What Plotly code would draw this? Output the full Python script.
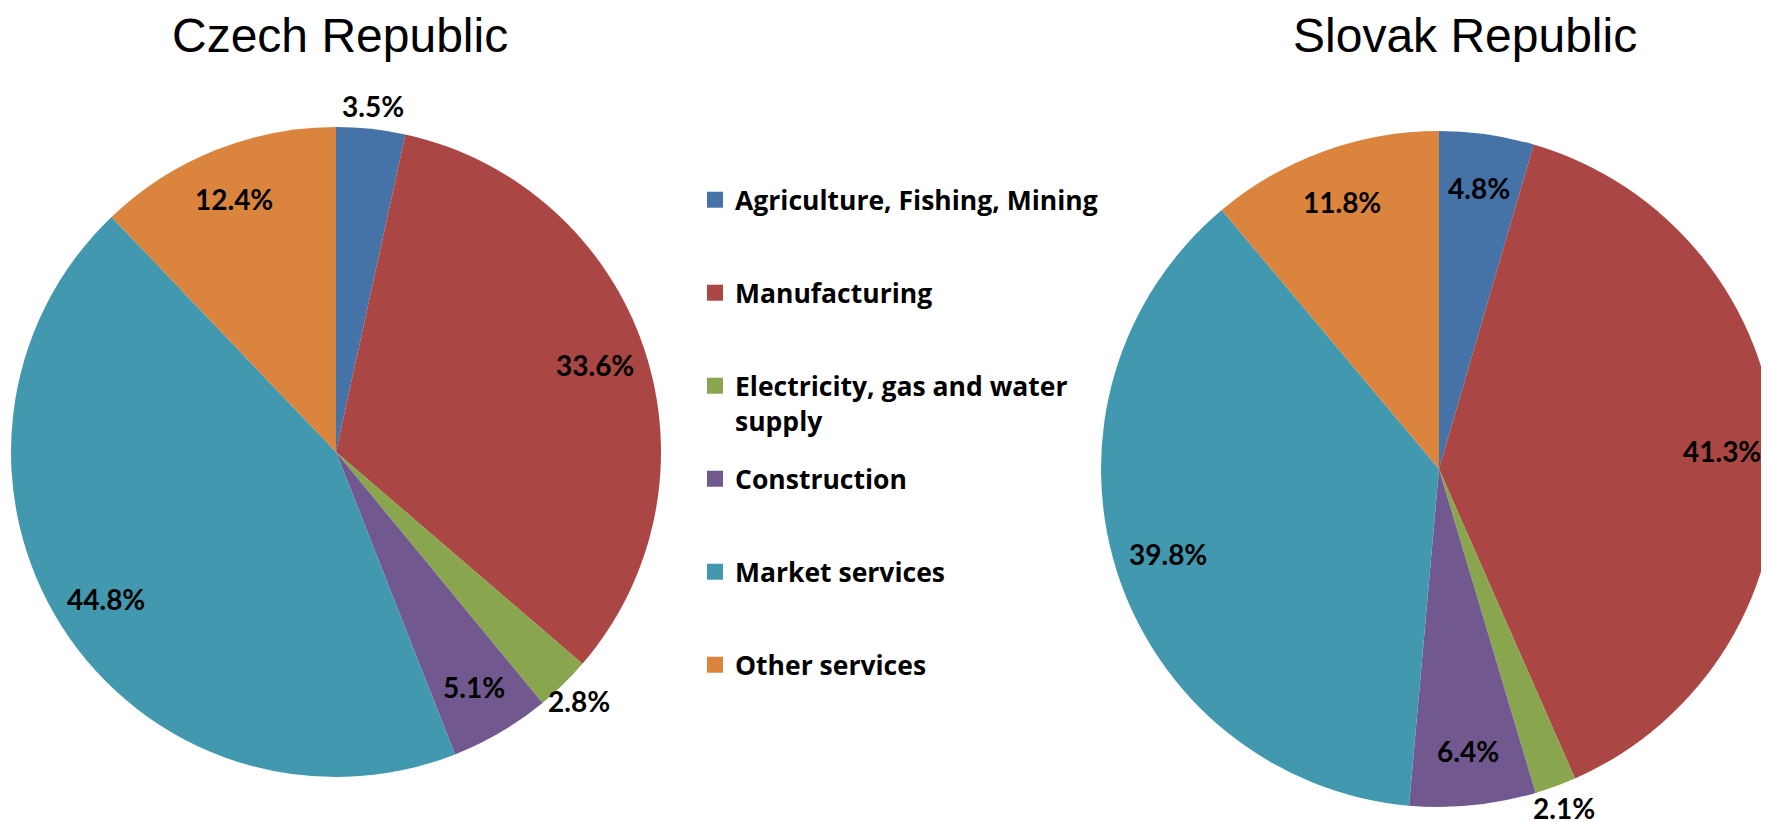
import math
import plotly.graph_objects as go

categories = ["Agriculture, Fishing, Mining", "Manufacturing",
              "Electricity, gas and water supply", "Construction",
              "Market services", "Other services"]
czech_values = [3.5, 33.6, 2.8, 5.1, 44.8, 12.4]
slovak_values = [4.8, 41.3, 2.1, 6.4, 39.8, 11.8]
colors = ["#4572A7", "#AA4643", "#89A54E", "#71588F", "#4198AF", "#DB843D"]

# which labels sit outside the pie
czech_outside = [True, False, True, False, False, False]
slovak_outside = [False, False, True, False, False, False]


def legend_label(c):
    if c.startswith("Electricity"):
        return "Electricity, gas and water<br>supply"
    return c


W, H = 1769, 822
# pie geometry in pixels: centre x, centre y (from top), radius
czech_geo = (328, 444, 325)
slovak_geo = (1431, 461, 338)


def domain(geo):
    cx, cy, r = geo
    return dict(x=[max(0, (cx - r) / W), min(1, (cx + r) / W)],
                y=[max(0, (H - cy - r) / H), min(1, (H - cy + r) / H)])


fig = go.Figure()
for vals, geo in [(czech_values, czech_geo), (slovak_values, slovak_geo)]:
    fig.add_trace(go.Pie(
        labels=categories, values=vals, sort=False, direction="clockwise",
        rotation=0, domain=domain(geo),
        marker=dict(colors=colors, line=dict(width=0)),
        textinfo="none", showlegend=False, hoverinfo="label+value",
    ))

# data labels placed along each slice's mid-angle
for vals, geo, outside in [(czech_values, czech_geo, czech_outside),
                           (slovak_values, slovak_geo, slovak_outside)]:
    cx, cy, r = geo
    total = sum(vals)
    cum = 0.0
    for v, out in zip(vals, outside):
        mid = (cum + v / 2) / total * 2 * math.pi
        cum += v
        k = 1.07 if out else 0.84
        px = cx + k * r * math.sin(mid)
        py = cy - k * r * math.cos(mid)
        fig.add_annotation(text=f"{v:.1f}%", x=px / W, y=1 - py / H,
                           xref="paper", yref="paper", showarrow=False,
                           xanchor="center", yanchor="middle",
                           font=dict(family="Lato", size=28, color="black",
                                     weight="bold"))

# legend entries, one small legend per category for even spacing
legend_layout = {}
for i, (c, col) in enumerate(zip(categories, colors)):
    lname = "legend" if i == 0 else f"legend{i + 1}"
    fig.add_trace(go.Scatter(
        x=[None], y=[None], mode="markers", name=legend_label(c),
        marker=dict(symbol="square", size=16, color=col),
        showlegend=True, hoverinfo="skip", legend=lname,
    ))
    legend_layout[lname] = dict(
        x=687 / W, y=1 - (168 + 93 * i) / H, xanchor="left", yanchor="top",
        valign="top",
        font=dict(family="Open Sans", size=26.5, color="black", weight="bold"),
        bgcolor="rgba(0,0,0,0)", itemclick=False, itemdoubleclick=False,
    )

fig.add_annotation(text="Czech Republic", x=332 / W, y=1 - 27 / H,
                   xref="paper", yref="paper", showarrow=False,
                   xanchor="center", yanchor="middle",
                   font=dict(family="Liberation Sans", size=48, color="black"))
fig.add_annotation(text="Slovak Republic", x=1457 / W, y=1 - 27 / H,
                   xref="paper", yref="paper", showarrow=False,
                   xanchor="center", yanchor="middle",
                   font=dict(family="Liberation Sans", size=48, color="black"))

fig.update_layout(
    width=W, height=H,
    margin=dict(l=0, r=0, t=0, b=0),
    paper_bgcolor="white", plot_bgcolor="white",
    xaxis=dict(visible=False), yaxis=dict(visible=False),
    showlegend=True,
    **legend_layout,
)

fig.write_html("out.html")
